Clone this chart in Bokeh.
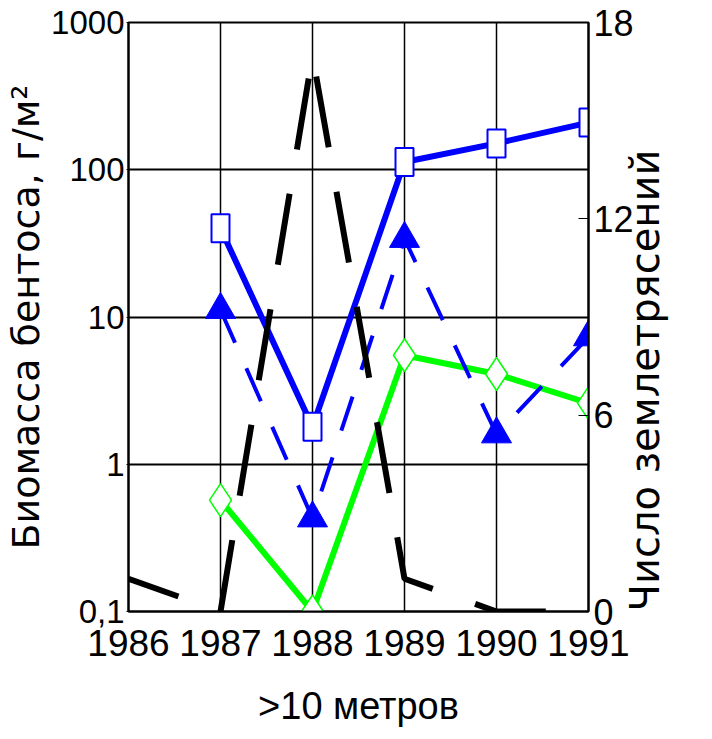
import math
from bokeh.plotting import figure
from bokeh.models import Range1d, LinearAxis, LinearScale, FixedTicker
from bokeh.embed import file_html
from bokeh.resources import INLINE

# ---- data ----
years = [1986, 1987, 1988, 1989, 1990, 1991]
year_labels = ["1986", "1987", "1988", "1989", "1990", "1991"]

bio_years = [1987, 1988, 1989, 1990, 1991]
biomass_squares = [40, 1.8, 113, 151, 209]      # blue solid, open squares
biomass_triangles = [11.2, 0.43, 34, 1.6, 7.3]  # blue dashed, filled triangles
biomass_diamonds = [0.57, 0.1, 5.5, 4.1, 2.6]   # green solid, open diamonds

quake_years = [1986, 1987, 1988, 1989, 1990, 1991]
quakes = [1, 0, 17, 1, 0, 0]                    # black dashed, right axis

left_ticks = [0.1, 1, 10, 100, 1000]
left_tick_labels = ["0,1", "1", "10", "100", "1000"]
right_ticks = [0, 6, 12, 18]
right_tick_labels = ["0", "6", "12", "18"]

y_title = "Биомасса бентоса, г/м²"
y2_title = "Число землетрясений"
x_title = ">10 метров"

NUM_FONT = "'Liberation Sans', Arial, sans-serif"
TXT_FONT = "'Liberation Sans', Arial, sans-serif"
VT_FONT = "'DejaVu Sans', sans-serif"

p = figure(x_range=Range1d(1986, 1991), y_range=Range1d(0.1, 1000),
           y_axis_type="log", frame_width=460, frame_height=589,
           min_border_left=128, min_border_right=120, min_border_top=22,
           min_border_bottom=124, output_backend="svg", toolbar_location=None,
           background_fill_color="white", border_fill_color="white")

p.outline_line_color = "black"
p.outline_line_width = 2

# grids
p.xgrid.ticker = FixedTicker(ticks=years)
p.ygrid.ticker = FixedTicker(ticks=left_ticks)
for g in (p.xgrid, p.ygrid):
    g.grid_line_color = "black"
    g.grid_line_alpha = 1.0
p.xgrid.grid_line_width = 1.5
p.ygrid.grid_line_width = 2

# bottom axis
xa = p.xaxis[0]
xa.ticker = FixedTicker(ticks=years)
xa.major_label_overrides = dict(zip(years, year_labels))
xa.major_tick_line_color = None
xa.minor_tick_line_color = None
xa.axis_line_width = 2
xa.major_label_text_font = NUM_FONT
xa.major_label_text_font_size = "37px"
xa.major_label_text_color = "black"
xa.major_label_standoff = 12
xa.axis_label = x_title
xa.axis_label_text_font = TXT_FONT
xa.axis_label_text_font_size = "38px"
xa.axis_label_text_font_style = "normal"
xa.axis_label_text_color = "black"
xa.axis_label_standoff = 26

# left axis
ya = p.yaxis[0]
ya.ticker = FixedTicker(ticks=left_ticks)
ya.major_label_overrides = dict(zip(left_ticks, left_tick_labels))
ya.minor_tick_line_color = None
ya.major_tick_in = 0
ya.major_tick_out = 2
ya.axis_line_width = 2
ya.major_label_text_font = NUM_FONT
ya.major_label_text_font_size = "33px"
ya.major_label_text_color = "black"
ya.major_label_standoff = 2
ya.axis_label = y_title
ya.axis_label_text_font = VT_FONT
ya.axis_label_text_font_size = "38px"
ya.axis_label_text_font_style = "normal"
ya.axis_label_text_color = "black"
ya.axis_label_standoff = 0

# right axis (earthquake count, linear)
p.extra_y_ranges = {"eq": Range1d(0, 18)}
p.extra_y_scales = {"eq": LinearScale()}
ra = LinearAxis(y_range_name="eq", ticker=FixedTicker(ticks=right_ticks))
ra.major_label_overrides = dict(zip(right_ticks, right_tick_labels))
ra.minor_tick_line_color = None
ra.major_tick_in = 10
ra.major_tick_out = 0
ra.axis_line_width = 2
ra.major_label_text_font = NUM_FONT
ra.major_label_text_font_size = "36px"
ra.major_label_text_color = "black"
ra.major_label_standoff = 5
ra.axis_label = y2_title
ra.axis_label_text_font = VT_FONT
ra.axis_label_text_font_size = "40px"
ra.axis_label_text_font_style = "normal"
ra.axis_label_text_color = "black"
ra.axis_label_standoff = 8
props = LinearAxis.properties()
if "axis_label_orientation" in props:
    ra.axis_label_orientation = math.pi / 2
    if "axis_label_align" in props:
        ra.axis_label_align = "start"
p.add_layout(ra, "right")

# green series
p.line(bio_years, biomass_diamonds, line_color="#00ff00", line_width=6)
p.scatter(bio_years, biomass_diamonds, marker="diamond", size=33,
          fill_color="white", line_color="#00ff00", line_width=1.5)

# blue solid with open squares
p.line(bio_years, biomass_squares, line_color="#0000ff", line_width=6)
p.rect(bio_years, biomass_squares, width=18, height=28, width_units="screen",
       height_units="screen", fill_color="white", line_color="#0000ff", line_width=2)

# blue dashed with triangles
p.line(bio_years, biomass_triangles, line_color="#0000ff", line_width=4,
       line_dash="36 28")
p.scatter(bio_years, biomass_triangles, marker="triangle", size=30,
          fill_color="#0000ff", line_color="#0000ff")

# black dashed earthquakes
p.line(quake_years, quakes, y_range_name="eq", line_color="black", line_width=6,
       line_dash="72 45", line_dash_offset=19)

open("out.html", "w").write(file_html(p, INLINE))
